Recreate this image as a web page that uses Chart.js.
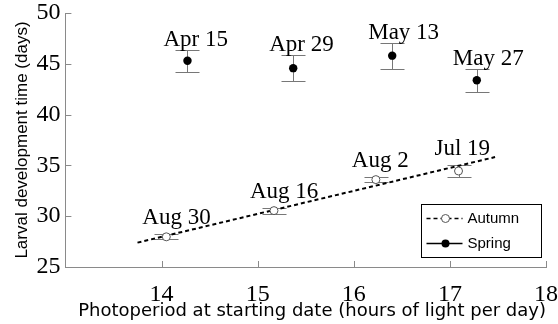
<!DOCTYPE html>
<html>
<head>
<meta charset="utf-8">
<script src="https://cdn.jsdelivr.net/npm/chart.js@4.4.0/dist/chart.umd.min.js"></script>
<style>
  html, body { margin: 0; padding: 0; background: #fff; }
  #wrap { width: 558px; height: 324px; }
</style>
</head>
<body>
<div id="wrap"><canvas id="chart" width="558" height="324"></canvas></div>
<script>
// data
var springLabels = ['Apr 15', 'Apr 29', 'May 13', 'May 27'];
var springX = [14.27, 15.37, 16.40, 17.28];
var springY = [45.3, 44.57, 45.8, 43.38];
var springErr = [1.07, 1.28, 1.27, 1.12];

var autumnLabels = ['Aug 30', 'Aug 16', 'Aug 2', 'Jul 19'];
var autumnX = [14.05, 15.17, 16.23, 17.09];
var autumnY = [27.97, 30.55, 33.6, 34.45];
var autumnErr = [0.25, 0.3, 0.28, 0.55];

// dashed regression line end points
var trendX = [13.75, 17.47];
var trendY = [27.4, 35.82];

var xTicks = [14, 15, 16, 17, 18];
var yTicks = [25, 30, 35, 40, 45, 50];

var serif = '"Liberation Serif", "Times New Roman", serif';
var axisGrey = '#8a8a8a';
var barGrey = '#777';
var clear = 'rgba(0,0,0,0)';

function pts(xs, ys) {
  return xs.map(function (x, i) { return { x: x, y: ys[i] }; });
}

var decor = {
  id: 'decor',
  beforeDatasetsDraw: function (chart) {
    // error bars, under the points
    var ctx = chart.ctx, xs = chart.scales.x, ys = chart.scales.y;
    ctx.save();
    ctx.strokeStyle = barGrey;
    ctx.lineWidth = 1;
    [[springX, springY, springErr], [autumnX, autumnY, autumnErr]].forEach(function (s) {
      s[0].forEach(function (xv, i) {
        var px = Math.round(xs.getPixelForValue(xv)) + 0.5;
        var top = Math.round(ys.getPixelForValue(s[1][i] + s[2][i])) + 0.5;
        var bot = Math.round(ys.getPixelForValue(s[1][i] - s[2][i])) + 0.5;
        ctx.beginPath();
        ctx.moveTo(px, top); ctx.lineTo(px, bot);
        ctx.moveTo(px - 12, top); ctx.lineTo(px + 12, top);
        ctx.moveTo(px - 12, bot); ctx.lineTo(px + 12, bot);
        ctx.stroke();
      });
    });
    ctx.restore();
  },
  afterDatasetsDraw: function (chart) {
    // date labels above each point
    var ctx = chart.ctx, xs = chart.scales.x, ys = chart.scales.y;
    ctx.save();
    ctx.fillStyle = '#000';
    ctx.font = '23px ' + serif;
    ctx.textAlign = 'left';
    ctx.textBaseline = 'alphabetic';
    springLabels.forEach(function (t, i) {
      var px = xs.getPixelForValue(springX[i]);
      var py = ys.getPixelForValue(springY[i] + springErr[i]);
      ctx.fillText(t, px - 24, py - 4);
    });
    autumnLabels.forEach(function (t, i) {
      var px = xs.getPixelForValue(autumnX[i]);
      var py = ys.getPixelForValue(autumnY[i] + autumnErr[i]);
      ctx.fillText(t, px - 24, py - 10);
    });
    ctx.restore();
  },
  afterDraw: function (chart) {
    var ctx = chart.ctx, xs = chart.scales.x, ys = chart.scales.y;
    var area = chart.chartArea;
    ctx.save();
    // inward tick marks
    ctx.strokeStyle = axisGrey;
    ctx.lineWidth = 1;
    ctx.beginPath();
    xTicks.forEach(function (v) {
      var px = Math.round(xs.getPixelForValue(v)) + 0.5;
      ctx.moveTo(px, area.bottom);
      ctx.lineTo(px, area.bottom - 6);
    });
    yTicks.forEach(function (v) {
      var py = Math.round(ys.getPixelForValue(v)) + 0.5;
      ctx.moveTo(area.left, py);
      ctx.lineTo(area.left + 6, py);
    });
    ctx.stroke();

    // legend box
    var bw = 120, bh = 53;
    var bx = Math.round(area.right - 5 - bw) + 0.5;
    var by = Math.round(area.bottom - 10 - bh) + 0.5;
    ctx.strokeStyle = '#000';
    ctx.strokeRect(bx, by, bw, bh);

    var y1 = by + 14, y2 = by + 39;
    var lx0 = bx + 5, lx1 = bx + 41, cx = bx + 24;
    ctx.lineWidth = 1.5;
    ctx.setLineDash([4, 3]);
    ctx.beginPath();
    ctx.moveTo(lx0, y1); ctx.lineTo(lx1, y1);
    ctx.stroke();
    ctx.setLineDash([]);
    ctx.beginPath();
    ctx.arc(cx, y1, 4, 0, Math.PI * 2);
    ctx.fillStyle = '#fff';
    ctx.fill();
    ctx.lineWidth = 1;
    ctx.strokeStyle = '#555';
    ctx.stroke();

    ctx.strokeStyle = '#000';
    ctx.lineWidth = 1.5;
    ctx.beginPath();
    ctx.moveTo(lx0, y2); ctx.lineTo(lx1, y2);
    ctx.stroke();
    ctx.beginPath();
    ctx.arc(cx, y2, 4, 0, Math.PI * 2);
    ctx.fillStyle = '#000';
    ctx.fill();

    ctx.fillStyle = '#000';
    ctx.font = '15px "Liberation Sans", Arial, sans-serif';
    ctx.textBaseline = 'middle';
    ctx.textAlign = 'left';
    ctx.fillText('Autumn', bx + 46, y1);
    ctx.fillText('Spring', bx + 46, y2);
    ctx.restore();
  }
};

Chart.defaults.color = '#000';

var ctx = document.getElementById('chart').getContext('2d');
var chart = new Chart(ctx, {
  type: 'scatter',
  data: {
    datasets: [
      {
        label: 'Autumn',
        data: pts(autumnX, autumnY),
        pointStyle: 'circle',
        pointRadius: 4,
        pointBackgroundColor: '#fff',
        pointBorderColor: '#555',
        pointBorderWidth: 1
      },
      {
        label: 'Spring',
        data: pts(springX, springY),
        pointStyle: 'circle',
        pointRadius: 4.2,
        pointBackgroundColor: '#000',
        pointBorderColor: '#000',
        pointBorderWidth: 0
      },
      {
        label: 'trend',
        type: 'line',
        data: pts(trendX, trendY),
        borderColor: '#000',
        borderWidth: 2,
        borderDash: [4, 3],
        pointRadius: 0,
        fill: false
      }
    ]
  },
  options: {
    responsive: false,
    animation: false,
    devicePixelRatio: 1,
    layout: { padding: { left: 8, right: 0, top: 0, bottom: 0 } },
    plugins: {
      legend: { display: false },
      tooltip: { enabled: false }
    },
    scales: {
      x: {
        type: 'linear',
        min: 13,
        max: 18,
        afterBuildTicks: function (s) {
          s.ticks = xTicks.map(function (v) { return { value: v }; });
        },
        // outer tick marks kept invisible, only to push the labels down
        grid: { display: true, drawOnChartArea: false, drawTicks: true, tickLength: 16, color: clear },
        border: { display: true, color: axisGrey, width: 1 },
        ticks: {
          font: { family: serif, size: 24, lineHeight: 1 },
          color: '#000',
          padding: 0,
          maxRotation: 0
        },
        title: {
          display: true,
          align: 'end',
          text: 'Photoperiod at starting date (hours of light per day)',
          font: { family: '"DejaVu Sans", sans-serif', size: 18, lineHeight: '3px' },
          color: '#000',
          padding: { top: 3, bottom: 11 }
        }
      },
      y: {
        type: 'linear',
        min: 25,
        max: 50,
        afterBuildTicks: function (s) {
          s.ticks = yTicks.map(function (v) { return { value: v }; });
        },
        grid: { display: true, drawOnChartArea: false, drawTicks: true, tickLength: 4, color: clear },
        border: { display: true, color: axisGrey, width: 1 },
        ticks: {
          font: { family: serif, size: 24, lineHeight: 1 },
          color: '#000',
          padding: 1
        },
        title: {
          display: true,
          text: 'Larval development time (days)',
          font: { family: '"Liberation Sans", Arial, sans-serif', size: 17 },
          color: '#000',
          padding: { top: 4, bottom: 3 }
        }
      }
    }
  },
  plugins: [decor]
});
</script>
</body>
</html>
